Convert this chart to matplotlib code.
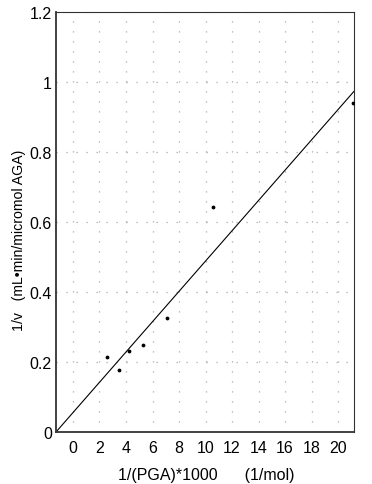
import matplotlib
matplotlib.use("Agg")
import matplotlib.pyplot as plt
import numpy as np

# data
inv_pga = [2.6, 3.5, 4.2, 5.3, 7.1, 10.6, 21.1]
inv_v = [0.214, 0.177, 0.232, 0.250, 0.326, 0.643, 0.940]
fit_slope = 0.0433
fit_intercept = 0.0554
x_ticks = [0, 2, 4, 6, 8, 10, 12, 14, 16, 18, 20]
y_ticks = [0, 0.2, 0.4, 0.6, 0.8, 1.0, 1.2]
y_tick_labels = ["0", "0.2", "0.4", "0.6", "0.8", "1", "1.2"]

plt.rcParams['font.family'] = ['Liberation Sans', 'DejaVu Sans']

fig = plt.figure(figsize=(3.72, 4.85), dpi=100)
ax = fig.add_axes([56/372, 1 - 433/485, (354-56)/372, (433-13)/485])

xmin, xmax = -1.28, 21.2
ax.set_xlim(xmin, xmax)
ax.set_ylim(0, 1.2)

xs = np.array([xmin, xmax])
ax.plot(xs, fit_intercept + fit_slope * xs, color='black', lw=0.8)
ax.scatter(inv_pga, inv_v, s=3, color='black', zorder=3)

ax.set_xticks(x_ticks)
ax.set_xticklabels([str(t) for t in x_ticks])
ax.set_yticks(y_ticks)
ax.set_yticklabels(y_tick_labels)
ax.tick_params(axis='both', length=0, labelsize=11.5)
ax.tick_params(axis='x', pad=6)
ax.tick_params(axis='y', pad=3)
ax.grid(True, color='#aaaaaa', linestyle=(0, (1, 7)), lw=0.9)

for s in ax.spines.values():
    s.set_linewidth(0.8)
    s.set_color('#333333')
ax.spines['left'].set_linewidth(1.3)
ax.spines['bottom'].set_linewidth(1.3)

ax.set_xlabel("1/(PGA)*1000      (1/mol)", fontsize=11.5)
ax.xaxis.set_label_coords(0.505, -0.102)
ax.xaxis.label.set_va('center')
ax.set_ylabel("1/v   (mL\u2022min/micromol AGA)", fontsize=10.2)
ax.yaxis.set_label_coords(-0.124, 0.458)
ax.yaxis.label.set_va('center')

fig.savefig("out.png", dpi=100)
